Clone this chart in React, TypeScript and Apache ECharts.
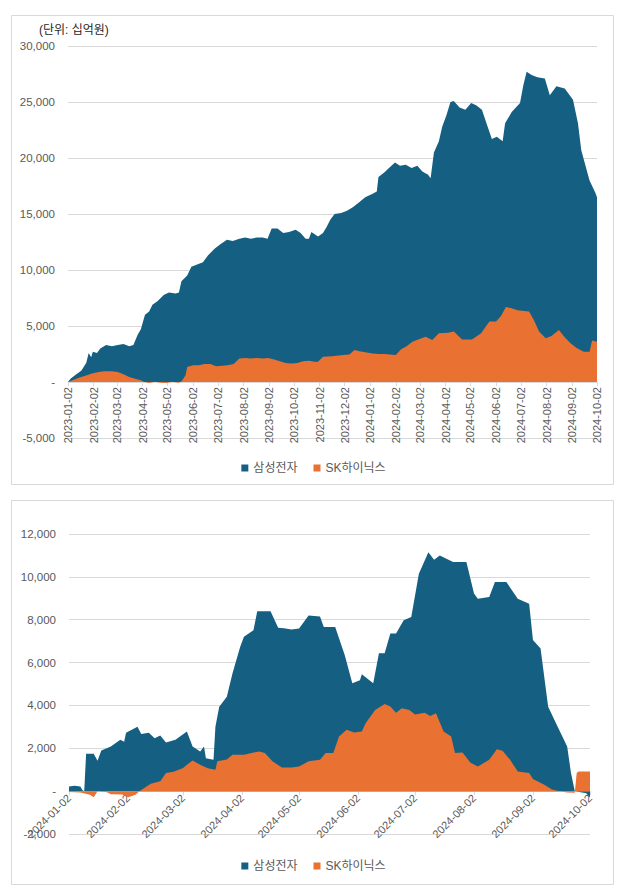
import React, { useEffect, useRef } from 'react';
import * as echarts from 'echarts';

const seriesNames = ['삼성전자', 'SK하이닉스'];
const unitLabel = '(단위: 십억원)';

const topRange = ['2023-01-02', '2024-10-02'];
const bottomRange = ['2024-01-02', '2024-10-02'];

const topSamsung: [string, number][] = [
  ['2023-01-02', 0], ['2023-01-05', 300], ['2023-01-12', 700], ['2023-01-18', 1000], ['2023-01-24', 1700],
  ['2023-01-27', 2600], ['2023-01-30', 2200], ['2023-02-01', 2700], ['2023-02-06', 2600], ['2023-02-10', 3000],
  ['2023-02-17', 3300], ['2023-02-24', 3200], ['2023-03-03', 3300], ['2023-03-10', 3400], ['2023-03-17', 3200],
  ['2023-03-22', 3300], ['2023-03-27', 4200], ['2023-03-31', 4700], ['2023-04-05', 6000], ['2023-04-10', 6300],
  ['2023-04-14', 6900], ['2023-04-20', 7200], ['2023-04-28', 7800], ['2023-05-04', 8000], ['2023-05-12', 7900],
  ['2023-05-16', 8000], ['2023-05-19', 9000], ['2023-05-26', 9500], ['2023-05-31', 10300], ['2023-06-07', 10500],
  ['2023-06-14', 10700], ['2023-06-20', 11300], ['2023-06-28', 11900], ['2023-07-05', 12300], ['2023-07-13', 12700],
  ['2023-07-20', 12600], ['2023-07-28', 12800], ['2023-08-04', 12900], ['2023-08-11', 12800], ['2023-08-18', 12900],
  ['2023-08-25', 12900], ['2023-08-31', 12800], ['2023-09-05', 13700], ['2023-09-12', 13700], ['2023-09-19', 13300],
  ['2023-09-26', 13400], ['2023-10-04', 13600], ['2023-10-10', 13300], ['2023-10-16', 12800], ['2023-10-20', 12800],
  ['2023-10-23', 13400], ['2023-10-31', 13000], ['2023-11-06', 13300], ['2023-11-10', 13800], ['2023-11-15', 14500],
  ['2023-11-20', 15000], ['2023-11-28', 15100], ['2023-12-05', 15300], ['2023-12-12', 15600], ['2023-12-19', 16000],
  ['2023-12-27', 16500], ['2024-01-05', 16800], ['2024-01-10', 17000], ['2024-01-12', 18300], ['2024-01-19', 18700],
  ['2024-01-26', 19200], ['2024-02-01', 19600], ['2024-02-07', 19300], ['2024-02-14', 19400], ['2024-02-21', 19100],
  ['2024-02-28', 19300], ['2024-03-05', 18800], ['2024-03-12', 18500], ['2024-03-15', 18200], ['2024-03-19', 20500],
  ['2024-03-25', 21500], ['2024-03-29', 22800], ['2024-04-03', 23800], ['2024-04-08', 25000], ['2024-04-12', 25100],
  ['2024-04-19', 24500], ['2024-04-26', 24300], ['2024-05-03', 24900], ['2024-05-09', 24700], ['2024-05-16', 24300],
  ['2024-05-22', 23000], ['2024-05-28', 21700], ['2024-06-03', 21900], ['2024-06-10', 21500], ['2024-06-13', 23100],
  ['2024-06-21', 24100], ['2024-07-01', 24900], ['2024-07-05', 26500], ['2024-07-09', 27700], ['2024-07-15', 27400],
  ['2024-07-22', 27200], ['2024-07-31', 27100], ['2024-08-06', 25600], ['2024-08-14', 26400], ['2024-08-24', 26200],
  ['2024-09-03', 25200], ['2024-09-09', 23100], ['2024-09-13', 20700], ['2024-09-23', 18000], ['2024-09-30', 16900],
  ['2024-10-02', 16500],
];

const topSK: [string, number][] = [
  ['2023-01-02', 0], ['2023-01-09', 200], ['2023-01-16', 400], ['2023-01-23', 550], ['2023-01-31', 750],
  ['2023-02-08', 900], ['2023-02-15', 950], ['2023-02-24', 950], ['2023-03-03', 900], ['2023-03-10', 700],
  ['2023-03-17', 450], ['2023-03-24', 300], ['2023-03-31', 150], ['2023-04-04', 0], ['2023-04-10', -80],
  ['2023-04-17', 30], ['2023-04-24', -60], ['2023-05-01', -80], ['2023-05-08', 20], ['2023-05-15', -60],
  ['2023-05-19', 50], ['2023-05-24', 600], ['2023-05-26', 1350], ['2023-06-02', 1500], ['2023-06-09', 1500],
  ['2023-06-16', 1600], ['2023-06-23', 1600], ['2023-06-30', 1400], ['2023-07-07', 1450], ['2023-07-14', 1500],
  ['2023-07-21', 1600], ['2023-07-28', 2100], ['2023-08-04', 2150], ['2023-08-11', 2100], ['2023-08-18', 2150],
  ['2023-08-25', 2100], ['2023-09-01', 2150], ['2023-09-08', 2000], ['2023-09-15', 1850], ['2023-09-22', 1700],
  ['2023-09-29', 1650], ['2023-10-06', 1700], ['2023-10-13', 1850], ['2023-10-20', 1900], ['2023-10-27', 1800],
  ['2023-10-31', 1800], ['2023-11-06', 2250], ['2023-11-17', 2300], ['2023-11-30', 2400], ['2023-12-08', 2450],
  ['2023-12-14', 2850], ['2023-12-20', 2750], ['2023-12-27', 2650], ['2024-01-05', 2550], ['2024-01-12', 2500],
  ['2024-01-19', 2500], ['2024-01-26', 2450], ['2024-02-02', 2400], ['2024-02-08', 2900], ['2024-02-15', 3200],
  ['2024-02-22', 3600], ['2024-02-29', 3800], ['2024-03-09', 4050], ['2024-03-17', 3750], ['2024-03-25', 4350],
  ['2024-04-05', 4400], ['2024-04-12', 4500], ['2024-04-22', 3800], ['2024-05-04', 3800], ['2024-05-15', 4350],
  ['2024-05-25', 5400], ['2024-06-02', 5400], ['2024-06-08', 5900], ['2024-06-14', 6700], ['2024-06-20', 6600],
  ['2024-06-28', 6400], ['2024-07-12', 6300], ['2024-07-18', 5500], ['2024-07-24', 4500], ['2024-08-01', 3900],
  ['2024-08-08', 4100], ['2024-08-17', 4650], ['2024-08-24', 4000], ['2024-08-31', 3450], ['2024-09-07', 3050],
  ['2024-09-16', 2700], ['2024-09-23', 2700], ['2024-09-26', 3700], ['2024-10-02', 3600],
];

const bottomSamsung: [string, number][] = [
  ['2024-01-02', 220], ['2024-01-05', 250], ['2024-01-08', 220], ['2024-01-09', 50], ['2024-01-10', 0],
  ['2024-01-11', 1740], ['2024-01-15', 1740], ['2024-01-17', 1420], ['2024-01-19', 1900], ['2024-01-24', 2080],
  ['2024-01-29', 2400], ['2024-01-31', 2300], ['2024-02-01', 2730], ['2024-02-07', 3010], ['2024-02-09', 2670],
  ['2024-02-13', 2730], ['2024-02-16', 2470], ['2024-02-19', 2600], ['2024-02-22', 2270], ['2024-02-27', 2400],
  ['2024-03-04', 2780], ['2024-03-07', 2080], ['2024-03-11', 1850], ['2024-03-13', 2080], ['2024-03-14', 1540],
  ['2024-03-18', 1460], ['2024-03-19', 3010], ['2024-03-21', 3940], ['2024-03-25', 4400], ['2024-03-28', 5500],
  ['2024-04-01', 6730], ['2024-04-03', 7200], ['2024-04-08', 7510], ['2024-04-10', 8400], ['2024-04-17', 8400],
  ['2024-04-21', 7630], ['2024-04-24', 7600], ['2024-04-28', 7540], ['2024-05-02', 7590], ['2024-05-07', 8200],
  ['2024-05-13', 8150], ['2024-05-15', 7660], ['2024-05-21', 7660], ['2024-05-26', 6350], ['2024-05-30', 5030],
  ['2024-06-03', 5180], ['2024-06-04', 5460], ['2024-06-10', 5030], ['2024-06-13', 6430], ['2024-06-16', 6430],
  ['2024-06-19', 7360], ['2024-06-22', 7360], ['2024-06-26', 7980], ['2024-06-30', 8130], ['2024-07-04', 10150],
  ['2024-07-09', 11150], ['2024-07-12', 10800], ['2024-07-15', 11000], ['2024-07-22', 10690], ['2024-07-29', 10690],
  ['2024-08-02', 9220], ['2024-08-04', 8980], ['2024-08-10', 9060], ['2024-08-13', 9760], ['2024-08-19', 9760],
  ['2024-08-25', 8980], ['2024-08-31', 8750], ['2024-09-02', 7050], ['2024-09-06', 6660], ['2024-09-10', 3940],
  ['2024-09-15', 3010], ['2024-09-20', 2080], ['2024-09-22', 850], ['2024-09-24', 0], ['2024-09-30', -100],
  ['2024-10-02', -300],
];

const bottomSK: [string, number][] = [
  ['2024-01-02', -40], ['2024-01-08', -60], ['2024-01-13', -170], ['2024-01-15', -280], ['2024-01-17', 0],
  ['2024-01-22', -50], ['2024-01-24', -150], ['2024-01-30', -160], ['2024-02-02', -280], ['2024-02-06', -170],
  ['2024-02-08', 0], ['2024-02-14', 350], ['2024-02-19', 460], ['2024-02-22', 850], ['2024-02-26', 900],
  ['2024-03-02', 1080], ['2024-03-04', 1230], ['2024-03-07', 1430], ['2024-03-11', 1230], ['2024-03-15', 1070],
  ['2024-03-19', 1000], ['2024-03-20', 1390], ['2024-03-25', 1480], ['2024-03-28', 1700], ['2024-04-03', 1700],
  ['2024-04-07', 1780], ['2024-04-11', 1850], ['2024-04-14', 1780], ['2024-04-18', 1390], ['2024-04-23', 1100],
  ['2024-04-28', 1100], ['2024-05-02', 1150], ['2024-05-07', 1390], ['2024-05-13', 1460], ['2024-05-16', 1780],
  ['2024-05-20', 1780], ['2024-05-23', 2550], ['2024-05-27', 2860], ['2024-05-31', 2740], ['2024-06-04', 2780],
  ['2024-06-06', 3170], ['2024-06-11', 3790], ['2024-06-16', 4070], ['2024-06-19', 3950], ['2024-06-22', 3660],
  ['2024-06-25', 3870], ['2024-06-29', 3790], ['2024-07-02', 3580], ['2024-07-07', 3660], ['2024-07-10', 3510],
  ['2024-07-13', 3640], ['2024-07-17', 2780], ['2024-07-21', 2550], ['2024-07-23', 1780], ['2024-07-27', 1800],
  ['2024-07-31', 1340], ['2024-08-04', 1150], ['2024-08-10', 1460], ['2024-08-14', 1960], ['2024-08-17', 1880],
  ['2024-08-21', 1460], ['2024-08-25', 920], ['2024-08-31', 850], ['2024-09-02', 570], ['2024-09-08', 300],
  ['2024-09-12', 80], ['2024-09-16', 0], ['2024-09-20', -60], ['2024-09-24', -80], ['2024-09-25', 850],
  ['2024-09-26', 920], ['2024-10-02', 920],
];

const BLUE = '#156082';
const ORANGE = '#E97132';
const GRID = '#d9d9d9';
const TEXT = '#595959';
const FONT = "'Liberation Sans', 'Noto Sans CJK KR', sans-serif";

function calendar(start: string, end: string): string[] {
  const out: string[] = [];
  const d = new Date(start + 'T00:00:00Z');
  const e = new Date(end + 'T00:00:00Z');
  while (d.getTime() <= e.getTime()) {
    out.push(d.toISOString().slice(0, 10));
    d.setUTCDate(d.getUTCDate() + 1);
  }
  return out;
}

function place(days: string[], pts: [string, number][]) {
  const m = new Map(pts);
  return days.map((d) => (m.has(d) ? (m.get(d) as number) : null));
}

const yFmt = (v: number) => (v === 0 ? '-' : v.toLocaleString('en-US'));
const isSecond = (_i: number, v: string) => v.slice(8) === '02';

// grid geometry
const TOP_GRID = { top: 46, bottom: 438, min: -5000, max: 30000, interval: 5000 };
const BOT_GRID = { top: 534, bottom: 834, min: -2000, max: 12000, interval: 2000 };

function zeroOffset(g: { top: number; bottom: number; min: number; max: number }) {
  const h = g.bottom - g.top;
  const zeroY = g.top + (h * g.max) / (g.max - g.min);
  return -(g.bottom - zeroY);
}

export default function App() {
  const ref = useRef<HTMLDivElement>(null);
  useEffect(() => {
    if (!ref.current) return;
    const chart = echarts.init(ref.current, undefined, { renderer: 'svg' });
    const topDays = calendar(topRange[0], topRange[1]);
    const botDays = calendar(bottomRange[0], bottomRange[1]);

    const xAxisBase = (days: string[], gridIndex: number, rotate: number, offset: number) => ({
      type: 'category',
      gridIndex,
      data: days,
      position: 'bottom',
      offset,
      boundaryGap: false,
      axisLine: { onZero: false, lineStyle: { color: GRID } },
      axisTick: { show: true, interval: isSecond, length: 4, lineStyle: { color: GRID } },
      axisLabel: {
        interval: isSecond,
        rotate,
        color: TEXT,
        fontSize: 11,
        fontFamily: FONT,
        margin: 5,
      },
      splitLine: { show: false },
    });

    const yAxisBase = (gridIndex: number, g: { min: number; max: number; interval: number }) => ({
      type: 'value',
      gridIndex,
      min: g.min,
      max: g.max,
      interval: g.interval,
      axisLine: { show: false },
      axisTick: { show: false },
      axisLabel: { formatter: yFmt, color: TEXT, fontSize: 11.5, fontFamily: FONT, margin: 13 },
      splitLine: { lineStyle: { color: GRID, width: 1 } },
    });

    const area = (name: string, color: string, data: (number | null)[], idx: number) => ({
      name,
      type: 'line',
      xAxisIndex: idx,
      yAxisIndex: idx,
      data,
      connectNulls: true,
      showSymbol: false,
      symbol: 'none',
      lineStyle: { width: 0, color },
      itemStyle: { color },
      areaStyle: { color, opacity: 1 },
    });

    const legend = (top: number) => ({
      data: seriesNames,
      left: 'center',
      top,
      icon: 'rect',
      itemWidth: 7,
      itemHeight: 7,
      itemGap: 16,
      textStyle: { color: TEXT, fontSize: 12, fontFamily: FONT },
    });

    chart.setOption({
      animation: false,
      backgroundColor: '#ffffff',
      textStyle: { fontFamily: FONT },
      graphic: [
        { type: 'rect', shape: { x: 11.5, y: 15.5, width: 602, height: 469 }, style: { fill: 'none', stroke: GRID, lineWidth: 1 } },
        { type: 'rect', shape: { x: 11.5, y: 500.5, width: 602, height: 384 }, style: { fill: 'none', stroke: GRID, lineWidth: 1 } },
        { type: 'text', x: 39, y: 24, style: { text: unitLabel, fill: '#262626', fontSize: 12, fontFamily: FONT } },
      ],
      legend: [legend(457), legend(855)],
      grid: [
        { left: 68, right: 30, top: TOP_GRID.top, bottom: 895 - TOP_GRID.bottom, containLabel: false },
        { left: 69, right: 37, top: BOT_GRID.top, bottom: 895 - BOT_GRID.bottom, containLabel: false },
      ],
      xAxis: [
        xAxisBase(topDays, 0, 90, zeroOffset(TOP_GRID)),
        xAxisBase(botDays, 1, 45, zeroOffset(BOT_GRID)),
      ],
      yAxis: [yAxisBase(0, TOP_GRID), yAxisBase(1, BOT_GRID)],
      series: [
        area(seriesNames[0], BLUE, place(topDays, topSamsung), 0),
        area(seriesNames[1], ORANGE, place(topDays, topSK), 0),
        area(seriesNames[0], BLUE, place(botDays, bottomSamsung), 1),
        area(seriesNames[1], ORANGE, place(botDays, bottomSK), 1),
      ],
    });
    return () => chart.dispose();
  }, []);

  return (
    <div
      ref={ref}
      style={{ position: 'absolute', left: 0, top: 0, width: 627, height: 895, background: '#fff' }}
    />
  );
}
